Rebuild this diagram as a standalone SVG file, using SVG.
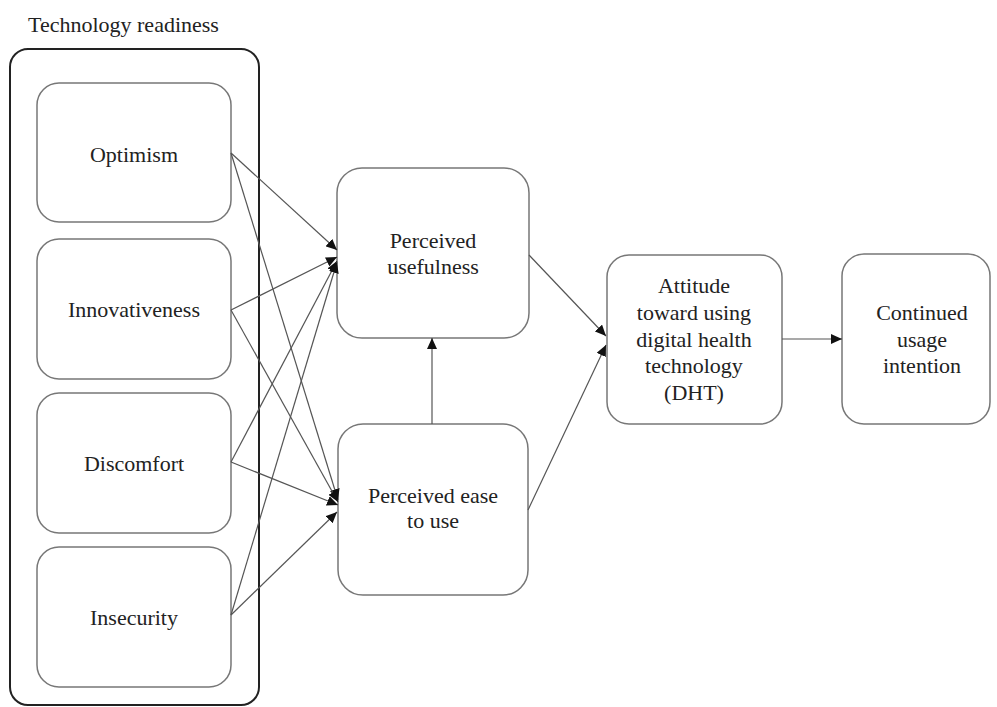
<svg xmlns="http://www.w3.org/2000/svg" width="997" height="707" viewBox="0 0 997 707">
<defs>
<marker id="arr" markerUnits="userSpaceOnUse" markerWidth="12" markerHeight="10" refX="11" refY="5" orient="auto">
<path d="M0,0 L11,5 L0,10 Z" fill="#111"/>
</marker>
<style>
.box{fill:#fff;stroke:#777;stroke-width:1.5}
.outer{fill:none;stroke:#222;stroke-width:2}
.t{font-family:"Liberation Serif","Times New Roman",serif;font-size:22px;fill:#222;text-anchor:middle}
.c{stroke:#555;stroke-width:1.2;fill:none;marker-end:url(#arr)}
</style>
</defs>
<rect width="997" height="707" fill="#fff"/>
<g id="technology-readiness">
<text class="t" x="28" y="32" style="text-anchor:start">Technology readiness</text>
<rect class="outer" x="10" y="49" width="249" height="656" rx="18"/>
</g>
<g id="optimism">
<rect class="box" x="37" y="83" width="194" height="139" rx="22"/>
<text class="t" x="134" y="162">Optimism</text>
</g>
<g id="innovativeness">
<rect class="box" x="37" y="239" width="194" height="140" rx="22"/>
<text class="t" x="134" y="317">Innovativeness</text>
</g>
<g id="discomfort">
<rect class="box" x="37" y="393" width="194" height="140" rx="22"/>
<text class="t" x="134" y="471">Discomfort</text>
</g>
<g id="insecurity">
<rect class="box" x="37" y="547" width="194" height="140" rx="22"/>
<text class="t" x="134" y="625">Insecurity</text>
</g>
<g id="perceived-usefulness">
<rect class="box" x="337" y="168" width="192" height="170" rx="25"/>
<text class="t" x="433" y="248">Perceived</text>
<text class="t" x="433" y="274">usefulness</text>
</g>
<g id="perceived-ease">
<rect class="box" x="338" y="424" width="190" height="171" rx="25"/>
<text class="t" x="433" y="503">Perceived ease</text>
<text class="t" x="433" y="528">to use</text>
</g>
<g id="attitude">
<rect class="box" x="607" y="255" width="175" height="169" rx="22"/>
<text class="t" x="694" y="293">Attitude</text>
<text class="t" x="694" y="320">toward using</text>
<text class="t" x="694" y="347">digital health</text>
<text class="t" x="694" y="373">technology</text>
<text class="t" x="694" y="400">(DHT)</text>
</g>
<g id="continued-usage">
<rect class="box" x="842" y="254" width="148" height="170" rx="22"/>
<text class="t" x="922" y="320">Continued</text>
<text class="t" x="922" y="347">usage</text>
<text class="t" x="922" y="373">intention</text>
</g>
<g id="connectors">
<line class="c" x1="231" y1="153" x2="337" y2="250"/>
<line class="c" x1="231" y1="153" x2="338" y2="500"/>
<line class="c" x1="231" y1="310" x2="337" y2="257"/>
<line class="c" x1="231" y1="310" x2="338" y2="502"/>
<line class="c" x1="231" y1="462" x2="337" y2="261"/>
<line class="c" x1="231" y1="462" x2="338" y2="505"/>
<line class="c" x1="231" y1="615" x2="337" y2="262"/>
<line class="c" x1="231" y1="615" x2="337" y2="512"/>
<line class="c" x1="432" y1="424" x2="432" y2="338"/>
<line class="c" x1="529" y1="255" x2="606" y2="336"/>
<line class="c" x1="528" y1="510" x2="606" y2="345"/>
<line class="c" x1="782" y1="339" x2="842" y2="339"/>
</g>
</svg>
